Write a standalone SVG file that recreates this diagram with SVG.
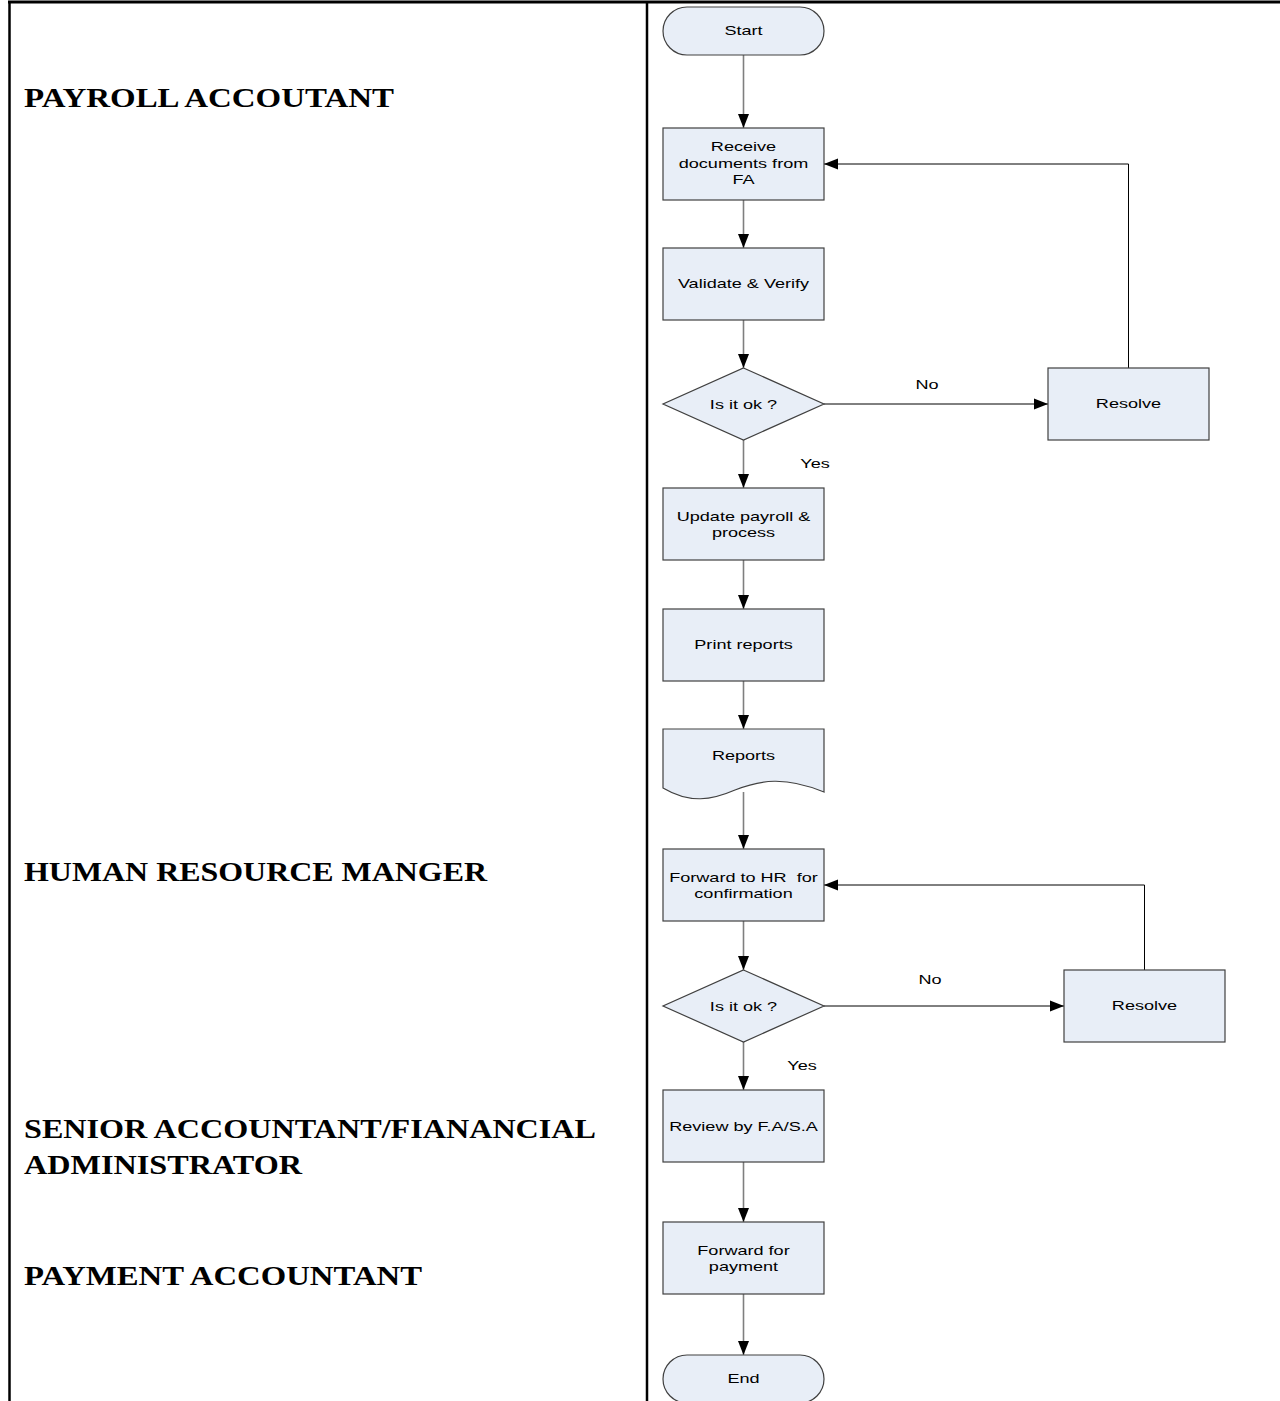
<svg xmlns="http://www.w3.org/2000/svg" width="1280" height="1401" viewBox="0 0 1280 1401">
<style>
.lbl{font-family:"Liberation Serif","Times New Roman",serif;font-weight:bold;font-size:28px;fill:#000}
.t{font-family:"Liberation Sans",Arial,sans-serif;font-size:13px;fill:#000;text-anchor:middle;white-space:pre}
.shape{fill:#E8EEF7;stroke:#404040;stroke-width:1.2}
.vc{stroke:#7f7f7f;stroke-width:1.6;fill:none}
.hc{stroke:#000;stroke-width:1;fill:none}
</style>
<defs>
<marker id="ah" markerUnits="userSpaceOnUse" markerWidth="14" markerHeight="12" refX="14" refY="6" orient="auto">
<path d="M0,0.5 L14,6 L0,11.5 Z" fill="#000"/>
</marker>
</defs>
<rect width="1280" height="1401" fill="#fff"/>
<g id="table">
<line x1="8" y1="2" x2="1280" y2="2" stroke="#000" stroke-width="3"/>
<line x1="9.5" y1="1" x2="9.5" y2="1401" stroke="#000" stroke-width="2.5"/>
<line x1="647" y1="1" x2="647" y2="1401" stroke="#000" stroke-width="2.5"/>
</g>
<g id="lanes">
<text class="lbl" x="24" y="107" textLength="370" lengthAdjust="spacingAndGlyphs">PAYROLL ACCOUTANT</text>
<text class="lbl" x="24" y="881" textLength="463" lengthAdjust="spacingAndGlyphs">HUMAN RESOURCE MANGER</text>
<text class="lbl" x="24" y="1138" textLength="572" lengthAdjust="spacingAndGlyphs">SENIOR ACCOUNTANT/FIANANCIAL</text>
<text class="lbl" x="24" y="1174" textLength="278" lengthAdjust="spacingAndGlyphs">ADMINISTRATOR</text>
<text class="lbl" x="24" y="1285" textLength="398" lengthAdjust="spacingAndGlyphs">PAYMENT ACCOUNTANT</text>
</g>
<g id="connectors">
<line class="vc" x1="743.5" y1="55" x2="743.5" y2="128" marker-end="url(#ah)"/>
<line class="vc" x1="743.5" y1="200" x2="743.5" y2="248" marker-end="url(#ah)"/>
<line class="vc" x1="743.5" y1="320" x2="743.5" y2="368" marker-end="url(#ah)"/>
<line class="vc" x1="743.5" y1="440" x2="743.5" y2="488" marker-end="url(#ah)"/>
<line class="vc" x1="743.5" y1="560" x2="743.5" y2="609" marker-end="url(#ah)"/>
<line class="vc" x1="743.5" y1="681" x2="743.5" y2="729" marker-end="url(#ah)"/>
<line class="vc" x1="743.5" y1="792" x2="743.5" y2="849" marker-end="url(#ah)"/>
<line class="vc" x1="743.5" y1="921" x2="743.5" y2="970" marker-end="url(#ah)"/>
<line class="vc" x1="743.5" y1="1042" x2="743.5" y2="1090" marker-end="url(#ah)"/>
<line class="vc" x1="743.5" y1="1162" x2="743.5" y2="1222" marker-end="url(#ah)"/>
<line class="vc" x1="743.5" y1="1294" x2="743.5" y2="1355" marker-end="url(#ah)"/>
<line class="hc" x1="824" y1="404" x2="1048" y2="404" marker-end="url(#ah)"/>
<polyline class="hc" points="1128.5,368 1128.5,164 824,164" marker-end="url(#ah)"/>
<line class="hc" x1="824" y1="1006" x2="1064" y2="1006" marker-end="url(#ah)"/>
<polyline class="hc" points="1144.5,970 1144.5,885 824,885" marker-end="url(#ah)"/>
<text class="t" transform="translate(927 389) scale(1.39 1)">No</text>
<text class="t" transform="translate(815 468) scale(1.39 1)">Yes</text>
<text class="t" transform="translate(930 984) scale(1.39 1)">No</text>
<text class="t" transform="translate(802 1070) scale(1.39 1)">Yes</text>
</g>
<g id="start">
<rect class="shape" x="663" y="7" width="161" height="48" rx="24" ry="24"/>
<text class="t" transform="translate(743.5 35) scale(1.39 1)">Start</text>
</g>
<g id="receive">
<rect class="shape" x="663" y="128" width="161" height="72"/>
<text class="t" transform="translate(743.5 151) scale(1.39 1)">Receive</text>
<text class="t" transform="translate(743.5 168) scale(1.39 1)">documents from</text>
<text class="t" transform="translate(743.5 184) scale(1.39 1)">FA</text>
</g>
<g id="validate">
<rect class="shape" x="663" y="248" width="161" height="72"/>
<text class="t" transform="translate(743.5 288) scale(1.39 1)">Validate &amp; Verify</text>
</g>
<g id="decision1">
<polygon class="shape" points="743.5,368 824,404 743.5,440 663,404"/>
<text class="t" transform="translate(743.5 409) scale(1.39 1)">Is it ok ?</text>
</g>
<g id="resolve1">
<rect class="shape" x="1048" y="368" width="161" height="72"/>
<text class="t" transform="translate(1128.5 408) scale(1.39 1)">Resolve</text>
</g>
<g id="update">
<rect class="shape" x="663" y="488" width="161" height="72"/>
<text class="t" transform="translate(743.5 521) scale(1.39 1)">Update payroll &amp;</text>
<text class="t" transform="translate(743.5 537) scale(1.39 1)">process</text>
</g>
<g id="print">
<rect class="shape" x="663" y="609" width="161" height="72"/>
<text class="t" transform="translate(743.5 649) scale(1.39 1)">Print reports</text>
</g>
<g id="reports">
<path class="shape" d="M663,729 H824 V792 C785,776 760,780 735,790 C712,800 690,804 663,788 Z"/>
<text class="t" transform="translate(743.5 760) scale(1.39 1)">Reports</text>
</g>
<g id="forwardhr">
<rect class="shape" x="663" y="849" width="161" height="72"/>
<text class="t" transform="translate(743.5 882) scale(1.39 1)">Forward to HR  for</text>
<text class="t" transform="translate(743.5 898) scale(1.39 1)">confirmation</text>
</g>
<g id="decision2">
<polygon class="shape" points="743.5,970 824,1006 743.5,1042 663,1006"/>
<text class="t" transform="translate(743.5 1011) scale(1.39 1)">Is it ok ?</text>
</g>
<g id="resolve2">
<rect class="shape" x="1064" y="970" width="161" height="72"/>
<text class="t" transform="translate(1144.5 1010) scale(1.39 1)">Resolve</text>
</g>
<g id="review">
<rect class="shape" x="663" y="1090" width="161" height="72"/>
<text class="t" transform="translate(743.5 1131) scale(1.39 1)">Review by F.A/S.A</text>
</g>
<g id="forwardpay">
<rect class="shape" x="663" y="1222" width="161" height="72"/>
<text class="t" transform="translate(743.5 1255) scale(1.39 1)">Forward for</text>
<text class="t" transform="translate(743.5 1271) scale(1.39 1)">payment</text>
</g>
<g id="end">
<rect class="shape" x="663" y="1355" width="161" height="48" rx="24" ry="24"/>
<text class="t" transform="translate(743.5 1383) scale(1.39 1)">End</text>
</g>
</svg>
